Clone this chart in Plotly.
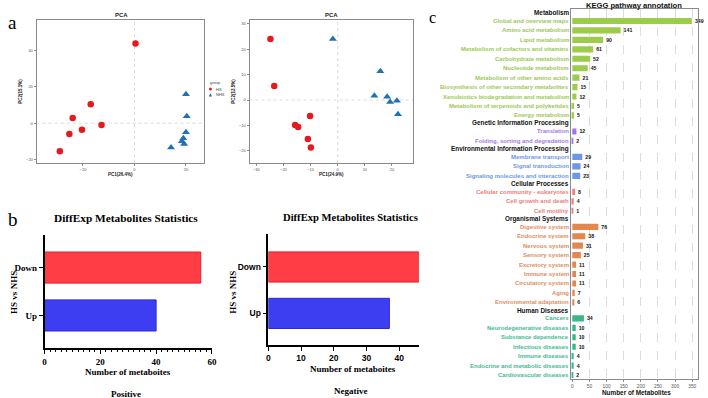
import plotly.graph_objects as go

W, H = 708, 398

# ---------------- data ----------------
# Panel a: PCA (left: positive mode, right: negative mode)
pca1_hs_x = [0.4, -17.0, -24.0, -12.8, -20.4, -25.3, -29.0]
pca1_hs_y = [44.0, 10.5, 2.8, -1.0, -3.7, -6.0, -15.5]
pca1_nhs_x = [20.0, 20.3, 20.0, 19.0, 18.4, 19.3, 14.2]
pca1_nhs_y = [16.0, 3.8, -5.0, -8.3, -10.0, -11.5, -13.5]

pca2_hs_x = [-24.8, -23.4, -15.7, -14.6, -10.2, -11.0, -9.9]
pca2_hs_y = [24.0, 5.5, -9.8, -10.6, -6.3, -15.4, -18.7]
pca2_nhs_x = [-1.8, 15.7, 13.5, 18.2, 19.3, 21.8, 22.2]
pca2_nhs_y = [24.0, 11.3, 1.7, 1.3, -0.8, -0.3, -5.6]

pca1_xticks = [-20, 0, 20]
pca1_yticks = [-20, 0, 20, 40]
pca2_xticks = [-30, -20, -10, 0, 10, 20]
pca2_yticks = [-20, -10, 0, 10, 20, 30]

# Panel b: differential metabolites
diff_categories = ["Up", "Down"]
diff_positive = [40, 56]
diff_negative = [37, 46]

# Panel c: KEGG annotation
kegg_groups = ["Metabolism", "Genetic Information Processing",
               "Environmental Information Processing", "Cellular Processes",
               "Organismal Systems", "Human Diseases"]
kegg_metabolism = ["Global and overview maps", "Amino acid metabolism", "Lipid metabolism",
                   "Metabolism of cofactors and vitamins", "Carbohydrate metabolism",
                   "Nucleotide metabolism", "Metabolism of other amino acids",
                   "Biosynthesis of other secondary metabolites",
                   "Xenobiotics biodegradation and metabolism",
                   "Metabolism of terpenoids and polyketides", "Energy metabolism"]
kegg_metabolism_n = [349, 141, 90, 61, 52, 45, 21, 15, 12, 5, 5]
kegg_genetic = ["Translation", "Folding, sorting and degradation"]
kegg_genetic_n = [12, 2]
kegg_environmental = ["Membrane transport", "Signal transduction",
                      "Signaling molecules and interaction"]
kegg_environmental_n = [29, 24, 23]
kegg_cellular = ["Cellular community - eukaryotes", "Cell growth and death", "Cell motility"]
kegg_cellular_n = [8, 4, 1]
kegg_organismal = ["Digestive system", "Endocrine system", "Nervous system", "Sensory system",
                   "Excretory system", "Immune system", "Circulatory system", "Aging",
                   "Environmental adaptation"]
kegg_organismal_n = [76, 38, 31, 25, 11, 11, 11, 7, 6]
kegg_disease = ["Cancers", "Neurodegenerative diseases", "Substance dependence",
                "Infectious diseases", "Immune diseases",
                "Endocrine and metabolic diseases", "Cardiovascular diseases"]
kegg_disease_n = [34, 10, 10, 10, 4, 4, 2]
kegg_xticks = [0, 50, 100, 150, 200, 250, 300, 350]

kegg_bar_colors = ["#9DCB4C", "#A275E6", "#6B96EA", "#EC7D7B", "#E3874F", "#38B88A"]
kegg_text_colors = ["#9CC856", "#A47DE0", "#6E98E6", "#E9807D", "#E08E62", "#43BC90"]

# ---------------- helpers ----------------
def px(x):
    return x / W

def py(y):
    return 1 - y / H

SERIF = "Liberation Serif"
SANS = "Liberation Sans"

fig = go.Figure()
annotations = []
shapes = []

def note(text, x, y, font, xanchor="center", yanchor="middle", **kw):
    annotations.append(dict(text=text, x=px(x), y=py(y), xref="paper", yref="paper",
                            xanchor=xanchor, yanchor=yanchor, showarrow=False, font=font, **kw))

# ---------------- Panel a: PCA ----------------
red = "#E41A1C"
blue = "#2171B5"
for (hx, hy, nx, ny, xa, ya) in [
    (pca1_hs_x, pca1_hs_y, pca1_nhs_x, pca1_nhs_y, "x", "y"),
    (pca2_hs_x, pca2_hs_y, pca2_nhs_x, pca2_nhs_y, "x2", "y2"),
]:
    fig.add_trace(go.Scatter(x=hx, y=hy, mode="markers", xaxis=xa, yaxis=ya,
                             marker=dict(color=red, size=6.5, symbol="circle"),
                             showlegend=False, hoverinfo="skip"))
    fig.add_trace(go.Scatter(x=nx, y=ny, mode="markers", xaxis=xa, yaxis=ya,
                             marker=dict(color=blue, size=7, symbol="triangle-up"),
                             showlegend=False, hoverinfo="skip"))
    shapes.append(dict(type="line", xref=xa, yref=ya + " domain",
                       x0=0, x1=0, y0=0, y1=1,
                       line=dict(color="#D0D0D0", width=0.8, dash="dot"), layer="below"))
    shapes.append(dict(type="line", xref=xa + " domain", yref=ya,
                       x0=0, x1=1, y0=0, y1=0,
                       line=dict(color="#D0D0D0", width=0.8, dash="dot"), layer="below"))

# small hand-made legend ("group": HS / NHS)
legend_font = dict(size=4, family=SANS, color="#444444")
note("group", 208, 83, legend_font, xanchor="left")
note("HS", 214, 89, legend_font, xanchor="left")
note("NHS", 214, 95, legend_font, xanchor="left")
shapes.append(dict(type="circle", xref="paper", yref="paper",
                   x0=px(209), x1=px(212), y0=py(90.5), y1=py(87.5),
                   fillcolor=red, line=dict(width=0)))
shapes.append(dict(type="path", xref="paper", yref="paper",
                   path=f"M {px(208.8)} {py(96.5)} L {px(212.2)} {py(96.5)} L {px(210.5)} {py(93.3)} Z",
                   fillcolor=blue, line=dict(width=0)))

pca_axis_common = dict(showline=True, linecolor="#8A8A8A", linewidth=1, mirror=True,
                       ticks="outside", ticklen=2, tickcolor="#8A8A8A",
                       tickfont=dict(size=4, color="#555555", family=SANS),
                       showgrid=False, zeroline=False)
pca_title_font = dict(size=4.5, color="#222222", family=SANS, weight="bold")

layout_axes = dict(
    xaxis=dict(domain=[px(35), px(204)], range=[-38, 27], tickvals=pca1_xticks,
               title=dict(text="PC1(26.4%)", font=pca_title_font, standoff=2),
               anchor="y", **pca_axis_common),
    yaxis=dict(domain=[py(163), py(20)], range=[-22, 57], tickvals=pca1_yticks,
               title=dict(text="PC2(15.1%)", font=pca_title_font, standoff=3),
               anchor="x", **pca_axis_common),
    xaxis2=dict(domain=[px(250), px(415)], range=[-32.5, 27.7], tickvals=pca2_xticks,
                title=dict(text="PC1(24.9%)", font=pca_title_font, standoff=2),
                anchor="y2", **pca_axis_common),
    yaxis2=dict(domain=[py(163), py(20)], range=[-24.8, 31.5], tickvals=pca2_yticks,
                title=dict(text="PC2(13.5%)", font=pca_title_font, standoff=3),
                anchor="x2", **pca_axis_common),
)

pca_font = dict(size=6, family=SANS, weight="bold", color="#222")
note("PCA", 121, 15, pca_font)
note("PCA", 333, 15, pca_font)

# ---------------- Panel b: DiffExp bars ----------------
bar_fill = ["#3D3DF2", "#FF3D44"]
bar_line = ["#2A2AD8", "#E0202A"]
fig.add_trace(go.Bar(y=diff_categories, x=diff_positive, orientation="h", xaxis="x3", yaxis="y3",
                     marker=dict(color=bar_fill, line=dict(color=bar_line, width=1)),
                     width=0.65, showlegend=False, hoverinfo="skip"))
fig.add_trace(go.Bar(y=diff_categories, x=diff_negative, orientation="h", xaxis="x4", yaxis="y4",
                     marker=dict(color=bar_fill, line=dict(color=bar_line, width=1)),
                     width=0.65, showlegend=False, hoverinfo="skip"))

b_axis = dict(showline=True, linecolor="black", linewidth=1.5, ticks="outside", ticklen=4,
              tickwidth=1.3, tickcolor="black", showgrid=False, zeroline=False)
layout_axes.update(
    xaxis3=dict(domain=[px(43), px(212)], range=[0, 60], dtick=20, anchor="y3",
                tickfont=dict(size=9, family=SERIF, weight="bold", color="black"),
                minor=dict(ticks="outside", dtick=2, ticklen=2.5, tickcolor="black", tickwidth=1,
                           showgrid=False),
                **b_axis),
    yaxis3=dict(domain=[py(348), py(235)], range=[-0.68, 1.68], type="category",
                categoryorder="array", categoryarray=diff_categories, anchor="x3",
                tickfont=dict(size=9, family=SERIF, weight="bold", color="black"), **b_axis),
    xaxis4=dict(domain=[px(269), px(421)], range=[0, 46], dtick=10, anchor="y4",
                tickfont=dict(size=8.5, family=SANS, weight="bold", color="black"), **b_axis),
    yaxis4=dict(domain=[py(345), py(234)], range=[-0.68, 1.71], type="category",
                categoryorder="array", categoryarray=diff_categories, anchor="x4",
                tickfont=dict(size=8.5, family=SANS, weight="bold", color="black"), **b_axis),
)

serif_bold = lambda s: dict(size=s, family=SERIF, weight="bold", color="black")
for (cx, ty, xt_y, lab_y, lab, hx, tsize) in [(125, 218, 372, 394, "Positive", 12, 11.3),
                                              (352, 217, 369, 391, "Negative", 233, 10.6)]:
    note("DiffExp Metabolites Statistics", cx, ty, serif_bold(tsize))
    note("Number of metaboites", cx + 2, xt_y, serif_bold(9))
    note(lab, cx, lab_y, serif_bold(9))
    note("HS vs NHS", hx, 292, serif_bold(9), textangle=-90)

# ---------------- Panel c: KEGG ----------------
kegg_items = [kegg_metabolism, kegg_genetic, kegg_environmental, kegg_cellular,
              kegg_organismal, kegg_disease]
kegg_counts = [kegg_metabolism_n, kegg_genetic_n, kegg_environmental_n, kegg_cellular_n,
               kegg_organismal_n, kegg_disease_n]

LABEL_X = px(575)
HEADER_GAP = 0.85
cur = 0.0
for gi, (gname, items, counts) in enumerate(zip(kegg_groups, kegg_items, kegg_counts)):
    header_pos = cur
    annotations.append(dict(text=gname, x=LABEL_X, y=header_pos, xref="paper", yref="y5",
                            xanchor="right", yanchor="middle", showarrow=False,
                            font=dict(size=6.4, family=SANS, weight="bold", color="#111111")))
    positions = [header_pos + HEADER_GAP + i for i in range(len(items))]
    for name, p in zip(items, positions):
        annotations.append(dict(text=name, x=LABEL_X, y=p, xref="paper", yref="y5",
                                xanchor="right", yanchor="middle", showarrow=False,
                                font=dict(size=6.0, family=SANS, weight="bold",
                                          color=kegg_text_colors[gi])))
    fig.add_trace(go.Bar(y=positions, x=counts, orientation="h", xaxis="x5", yaxis="y5",
                         marker=dict(color=kegg_bar_colors[gi], line=dict(width=0)),
                         width=0.65, text=[str(c) for c in counts], textposition="outside",
                         textfont=dict(size=5.2, family=SANS, weight="bold", color="#111111"),
                         constraintext="none", cliponaxis=False,
                         showlegend=False, hoverinfo="skip"))
    cur = positions[-1] + HEADER_GAP

last_pos = cur - HEADER_GAP
layout_axes.update(
    xaxis5=dict(domain=[px(575), px(703)], range=[-2.9, 367], tickvals=kegg_xticks, anchor="y5",
                showline=True, linecolor="#8A8A8A", linewidth=1, mirror=True,
                ticks="outside", ticklen=2, tickcolor="#8A8A8A",
                tickfont=dict(size=4.8, family=SANS, color="#555555"),
                showgrid=True, gridcolor="#DDDDDD", griddash="dash", gridwidth=0.6,
                zeroline=False),
    yaxis5=dict(domain=[py(379), py(9)], range=[last_pos + 0.42, -0.42], anchor="x5",
                showline=True, linecolor="#8A8A8A", linewidth=1, mirror=True,
                showticklabels=False, ticks="", showgrid=False, zeroline=False),
)
note("KEGG pathway annotation", 638, 5, dict(size=7.6, family=SANS, weight="bold", color="#111"))
note("Number of Metabolites", 641, 392, dict(size=6.4, family=SANS, weight="bold", color="#111"))

# panel letters
note("a", 4, 22, dict(size=19, family=SERIF, color="black"), xanchor="left")
note("b", 4, 219, dict(size=19, family=SERIF, color="black"), xanchor="left")
note("c", 429, 18, dict(size=16, family=SERIF, color="black"), xanchor="left")

fig.update_layout(
    width=W, height=H, margin=dict(l=0, r=0, t=0, b=0),
    paper_bgcolor="white", plot_bgcolor="white",
    barmode="overlay",
    showlegend=False,
    annotations=annotations,
    shapes=shapes,
    **layout_axes,
)

fig.write_html("out.html")
